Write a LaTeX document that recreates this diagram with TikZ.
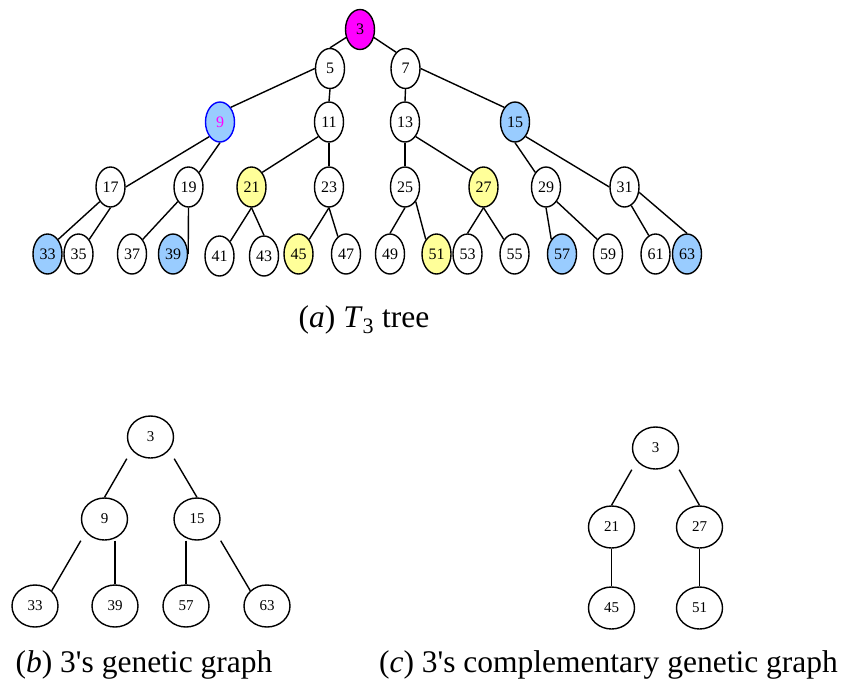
\documentclass[tikz,border=0pt]{standalone}
\usepackage{fontspec}
\setmainfont{Liberation Serif}
\usetikzlibrary{shapes.geometric}

\definecolor{rootfill}{RGB}{255,0,255}
\definecolor{bluefill}{RGB}{153,204,255}
\definecolor{yellowfill}{RGB}{255,255,153}
\definecolor{blueline}{RGB}{0,0,255}

\tikzset{
  small/.style={ellipse, draw, line width=1.4pt, inner sep=0pt,
    minimum width=29pt, minimum height=40pt,
    font=\fontsize{16}{18}\selectfont},
  big/.style={ellipse, draw, line width=1.4pt, inner sep=0pt,
    minimum width=46pt, minimum height=42pt,
    font=\fontsize{15}{17}\selectfont},
  rootnode/.style={fill=rootfill},
  gene/.style={fill=bluefill},
  comp/.style={fill=yellowfill},
  edge/.style={line width=1.4pt},
  caption/.style={anchor=base, inner sep=0pt, font=\fontsize{31.5}{36}\selectfont}
}

\begin{document}
\begin{tikzpicture}[x=1pt, y=-1pt]
\useasboundingbox (0,0) rectangle (845,688);

% ---- (a) the T_3 tree ----
\node[small, rootnode] (t3) at (360,29.5) {3};

\node[small] (t5) at (330,68.5) {5};
\node[small] (t7) at (405.5,68.5) {7};

\node[small, gene, draw=blueline, text=rootfill] (t9) at (220,122) {9};
\node[small] (t11) at (329,122) {11};
\node[small] (t13) at (405,122) {13};
\node[small, gene] (t15) at (515,122) {15};

\node[small] (t17) at (110.5,187) {17};
\node[small] (t19) at (188.5,187) {19};
\node[small, comp] (t21) at (251.5,187) {21};
\node[small] (t23) at (329,187) {23};
\node[small] (t25) at (405,187) {25};
\node[small, comp] (t27) at (483.5,187) {27};
\node[small] (t29) at (546,187) {29};
\node[small] (t31) at (624.5,187) {31};

\node[small, gene] (t33) at (47.5,254) {33};
\node[small] (t35) at (78.5,254) {35};
\node[small] (t37) at (132,254) {37};
\node[small, gene] (t39) at (173,254) {39};
\node[small] (t41) at (219.5,256) {41};
\node[small] (t43) at (264,256) {43};
\node[small, comp] (t45) at (298.5,254) {45};
\node[small] (t47) at (346,254) {47};
\node[small] (t49) at (390,254) {49};
\node[small, comp] (t51) at (436.5,254) {51};
\node[small] (t53) at (467.5,254) {53};
\node[small] (t55) at (514.5,254) {55};
\node[small, gene] (t57) at (562,254) {57};
\node[small] (t59) at (608,254) {59};
\node[small] (t61) at (655.5,254) {61};
\node[small, gene] (t63) at (687,254) {63};

\draw[edge] (t3.210) -- (t5.north);
\draw[edge] (t3.330) -- (t7.120);
\draw[edge] (t5.west) -- (t9.north east);
\draw[edge] (t5.south) -- (t11.north);
\draw[edge] (t7.south) -- (t13.north);
\draw[edge] (t7.east) -- (t15.north west);

\draw[edge] (t9.south west) -- (t17.east);
\draw[edge] (t9.south) -- (t19.north east);
\draw[edge] (t11.south west) -- (t21.north east);
\draw[edge] (t11.south) -- (t23.north);
\draw[edge] (t13.south) -- (t25.north);
\draw[edge] (t13.south east) -- (t27.north west);
\draw[edge] (t15.south) -- (t29.north west);
\draw[edge] (t15.south east) -- (t31.west);

\draw[edge] (t17.south west) -- (t33.north east);
\draw[edge] (t17.south) -- (t35.north east);
\draw[edge] (t19.south west) -- (t37.north east);
\draw[edge] (t19.south) -- (t39.east);
\draw[edge] (t21.south) -- (t41.north east);
\draw[edge] (t21.south) -- (t43.north);
\draw[edge] (t23.south) -- (t45.north east);
\draw[edge] (t23.south) -- (t47.115);
\draw[edge] (t25.south) -- (t49.north);
\draw[edge] (t25.south east) -- (t51.north west);
\draw[edge] (t27.south) -- (t53.north);
\draw[edge] (t27.south) -- (t55.north west);
\draw[edge] (t29.south) -- (t57.north west);
\draw[edge] (t29.south east) -- (t59.north west);
\draw[edge] (t31.290) -- (t61.110);
\draw[edge] (t31.340) -- (t63.north);

\node[caption] (capa) at (364,327) {(\textit{a}) \textit{T}\textsubscript{3} tree};

% ---- (b) genetic graph of 3 ----
\node[big] (b3) at (150.5,437) {3};
\node[big] (b9) at (104.5,519) {9};
\node[big] (b15) at (197,519) {15};
\node[big] (b33) at (35,606) {33};
\node[big] (b39) at (115,606) {39};
\node[big] (b57) at (186,606) {57};
\node[big] (b63) at (267,606) {63};

\draw[edge] (b3.south -| b3.west) -- (b9.north);
\draw[edge] (b3.south -| b3.east) -- (b15.north);
\draw[edge] (b9.south -| b9.west) -- (b33.north east);
\draw[edge] (b39.north |- b9.south) -- (b39.north);
\draw[edge] (b57.north |- b15.south) -- (b57.north);
\draw[edge] (b15.south -| b15.east) -- (b63.north west);

\node[caption] (capb) at (144,672) {(\textit{b}) 3\textquotesingle s genetic graph};

% ---- (c) complementary genetic graph of 3 ----
\node[big] (c3) at (655.5,448) {3};
\node[big] (c21) at (611.5,527) {21};
\node[big] (c27) at (699.5,527) {27};
\node[big] (c45) at (611.5,608) {45};
\node[big] (c51) at (699.5,608) {51};

\draw[edge] (c3.south -| c3.west) -- (c21.north);
\draw[edge] (c3.south -| c3.east) -- (c27.north);
\draw[edge] (c21.south) -- (c45.north);
\draw[edge] (c27.south) -- (c51.north);

\node[caption] (capc) at (608.5,672) {(\textit{c}) 3\textquotesingle s complementary genetic graph};
\end{tikzpicture}
\end{document}
